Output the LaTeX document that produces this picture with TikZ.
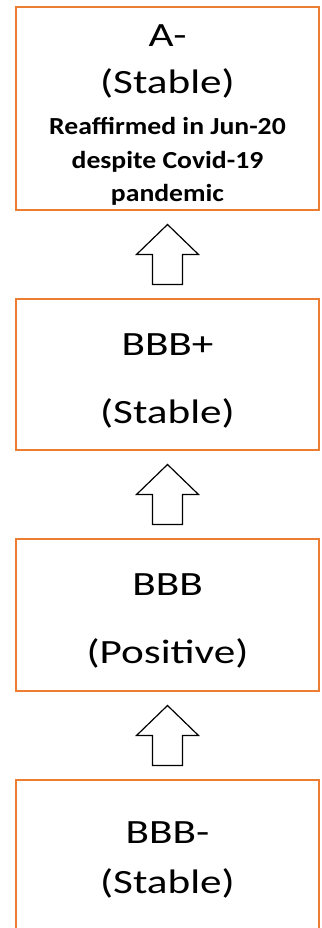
\documentclass[tikz,border=0pt]{standalone}
\usepackage{fontspec}
\setmainfont{Carlito}
\usetikzlibrary{calc}
\definecolor{rateorange}{RGB}{237,125,49}
\tikzset{
  ratebox/.style={draw=rateorange, line width=2pt, minimum width=303pt, minimum height=#1, inner sep=0pt},
  ratetext/.style={anchor=base, inner sep=0pt, font=\fontsize{34}{40}\selectfont, xscale=1.27},
  notetext/.style={anchor=base, inner sep=0pt, font=\fontsize{24.5}{30}\selectfont\bfseries, xscale=1.13},
  uparrow/.pic={
    \draw[line width=1.2pt, fill=white] (0,-30) -- (31,0) -- (15,0) -- (15,30)
      -- (-15,30) -- (-15,0) -- (-31,0) -- cycle;
  }
}
\begin{document}
\begin{tikzpicture}[x=1pt, y=-1pt]
\useasboundingbox (0,0) rectangle (321,928);
\clip (0,0) rectangle (321,928);
% rating boxes
\node[ratebox=203pt] (boxA) at (167.5,108.5) {};
\node[ratebox=151pt] (boxBp) at (167.5,374.5) {};
\node[ratebox=152pt] (boxB) at (167.5,615) {};
\node[ratebox=152pt] (boxBm) at (167.5,856) {};
% texts
\node[ratetext] (rA) at (167.5,47) {A-};
\node[ratetext] (oA) at (167.5,94) {(Stable)};
\node[notetext] (nA1) at (167.5,135) {Reaffirmed in Jun-20};
\node[notetext] (nA2) at (167.5,168) {despite Covid-19};
\node[notetext] (nA3) at (167.5,201) {pandemic};
\node[ratetext] (rBp) at (167.5,355) {BBB+};
\node[ratetext] (oBp) at (167.5,423) {(Stable)};
\node[ratetext] (rB) at (167.5,595) {BBB};
\node[ratetext] (oB) at (167.5,663) {(Positive)};
\node[ratetext] (rBm) at (167.5,843) {BBB-};
\node[ratetext] (oBm) at (167.5,893) {(Stable)};
% upgrade arrows
\pic at ($(boxBp.north)!0.5!(boxA.south)$) {uparrow};
\pic at ($(boxB.north)!0.5!(boxBp.south)$) {uparrow};
\pic at ($(boxBm.north)!0.5!(boxB.south)$) {uparrow};
\end{tikzpicture}
\end{document}
